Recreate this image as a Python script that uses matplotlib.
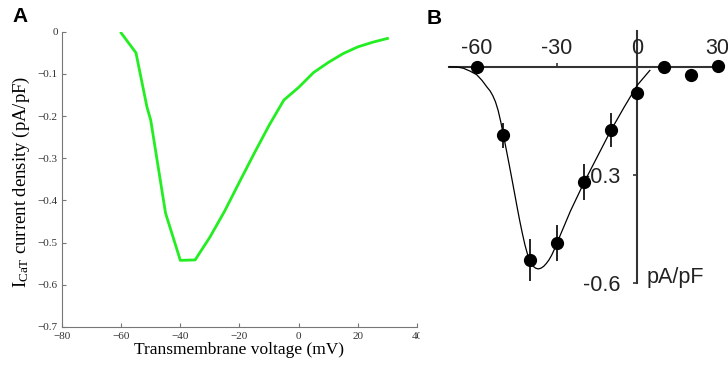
import matplotlib.pyplot as plt

# Panel A: simulated T-type calcium current vs voltage
volt_a = [-60, -55, -51.3, -50, -45, -40, -35, -30, -25, -20, -15, -10, -5, 0, 5, 10, 15, 20, 25, 30]
icat_a = [-0.003, -0.05, -0.178, -0.21, -0.43, -0.542, -0.541, -0.487, -0.425, -0.356,
          -0.288, -0.222, -0.162, -0.132, -0.097, -0.073, -0.052, -0.036, -0.025, -0.016]
xticks_a = [-80, -60, -40, -20, 0, 20, 40]
yticks_a = [0, -0.1, -0.2, -0.3, -0.4, -0.5, -0.6, -0.7]
yticklabels_a = ['0', '\u22120.1', '\u22120.2', '\u22120.3', '\u22120.4', '\u22120.5', '\u22120.6', '\u22120.7']

# Panel B: measured points (mean +/- error) and the fitted curve
volt_b = [-60, -50, -40, -30, -20, -10, 0, 10, 20, 30]
icat_b = [0, -0.19, -0.535, -0.489, -0.32, -0.175, -0.073, 0, -0.023, 0.003]
err_b = [0, 0.035, 0.058, 0.05, 0.05, 0.046, 0.012, 0, 0.018, 0.015]
fit_v = [-70.2, -67, -65, -62.5, -60, -58, -56.3, -55, -54, -53, -52, -51, -50, -49, -48,
         -47, -46, -45, -44, -43, -42, -41, -40, -39, -38, -37, -36, -35, -34, -33, -32,
         -31, -30, -25, -20, -15, -10, -5, 0, 4.7]
fit_i = [0, -0.001, -0.004, -0.012, -0.022, -0.038, -0.055, -0.067, -0.08, -0.097, -0.121,
         -0.153, -0.19, -0.228, -0.266, -0.305, -0.345, -0.385, -0.424, -0.46, -0.493,
         -0.52, -0.54, -0.552, -0.558, -0.56, -0.558, -0.553, -0.545, -0.535, -0.522,
         -0.506, -0.488, -0.40, -0.322, -0.25, -0.178, -0.113, -0.051, -0.01]
xticks_b = [-60, -30, 0, 30]
xticklabels_b = ['-60', '-30', '0', '30']
yticks_b = [-0.3, -0.6]
yticklabels_b = ['-0.3', '-0.6']

serif = 'Liberation Serif'
sans = 'Liberation Sans'

fig = plt.figure(figsize=(7.28, 3.66), dpi=100)

# ---- panel A
ax_a = fig.add_axes([62 / 728, 39 / 366, 355 / 728, 295.3 / 366])
ax_a.plot(volt_a, icat_a, color='#22ee22', lw=2)
ax_a.set_xlim(-80, 40)
ax_a.set_ylim(-0.7, 0)
ax_a.set_xticks(xticks_a)
ax_a.set_xticklabels(['\u2212' + str(-t) if t < 0 else str(t) for t in xticks_a],
                     family=serif, fontsize=8, color='#333333')
ax_a.set_yticks(yticks_a)
ax_a.set_yticklabels(yticklabels_a, family=serif, fontsize=8, color='#333333')
ax_a.tick_params(direction='in', length=3, width=0.8, color='#777777')
ax_a.tick_params(axis='x', pad=3.5)
ax_a.tick_params(axis='y', pad=3)
for s in ['top', 'right']:
    ax_a.spines[s].set_visible(False)
for s in ['left', 'bottom']:
    ax_a.spines[s].set_color('#777777')
    ax_a.spines[s].set_linewidth(0.8)
ax_a.set_xlabel('Transmembrane voltage (mV)', family=serif, fontsize=12.5, labelpad=1)
ax_a.set_ylabel(r'$\mathregular{I_{CaT}}$ current density (pA/pF)', family=serif, fontsize=13.5)
ax_a.yaxis.set_label_coords(-0.085, 0.49)

# ---- panel B
ax_b = fig.add_axes([420 / 728, 0, 308 / 728, 1])
ax_b.set_facecolor('white')
ax_b.plot(fit_v, fit_i, color='black', lw=0.9, zorder=2)
ax_b.errorbar(volt_b, icat_b, yerr=err_b, fmt='o', color='black', ms=8.5,
              elinewidth=1.2, capsize=0, zorder=3)
ax_b.set_xlim(-81.2, 33.9)
ax_b.set_ylim(-0.829, 0.185)
ax_b.spines['top'].set_position(('data', 0))
ax_b.spines['top'].set_bounds(-70.3, 32)
ax_b.spines['left'].set_position(('data', 0))
ax_b.spines['left'].set_bounds(-0.6, 0.1)
for s in ['top', 'left']:
    ax_b.spines[s].set_color('#333333')
    ax_b.spines[s].set_linewidth(1.5)
    ax_b.spines[s].set_zorder(1)
for s in ['bottom', 'right']:
    ax_b.spines[s].set_visible(False)
ax_b.xaxis.set_ticks_position('top')
ax_b.set_xticks(xticks_b)
ax_b.set_xticklabels(xticklabels_b, family=sans, fontsize=15.5, color='#222222')
ax_b.set_yticks(yticks_b)
ax_b.set_yticklabels(yticklabels_b, family=sans, fontsize=15.5, color='#222222')
ax_b.tick_params(direction='out', length=3, width=1.2, color='#333333')
ax_b.tick_params(axis='x', pad=2.5)
ax_b.tick_params(axis='y', pad=9)
ax_b.text(3.5, -0.585, 'pA/pF', family=sans, fontsize=15.5, color='#222222',
          ha='left', va='center')

fig.text(12 / 728, 1 - 7 / 366, 'A', family=sans, fontsize=15, fontweight='bold', va='top')
fig.text(427 / 728, 1 - 9 / 366, 'B', family=sans, fontsize=15, fontweight='bold', va='top')

fig.savefig('out.png', dpi=100)
